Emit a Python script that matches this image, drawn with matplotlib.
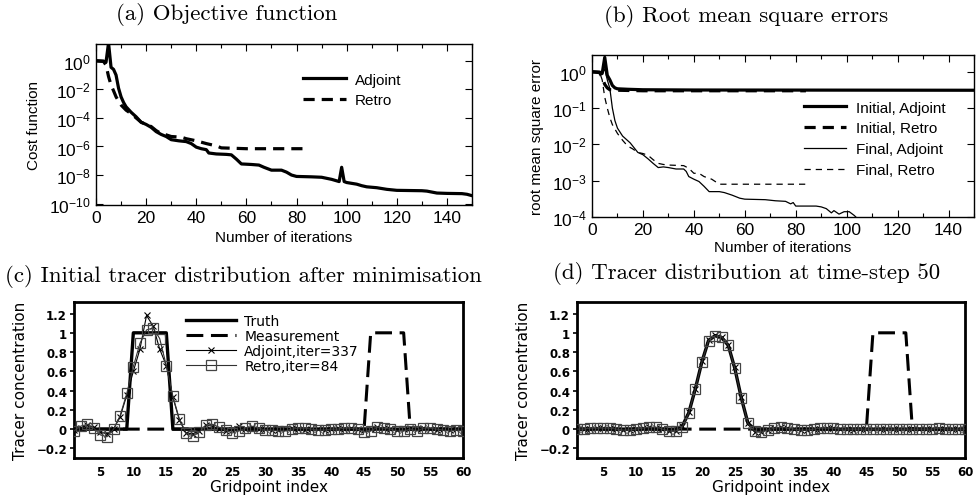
import numpy as np
import matplotlib
matplotlib.use("Agg")
import matplotlib.pyplot as plt
from matplotlib.ticker import FixedLocator, MultipleLocator, FuncFormatter

plt.rcParams['font.family'] = ['Liberation Sans', 'DejaVu Sans']

# (a) cost function
it_cost_adj = [0, 3, 4, 5, 6, 7, 8, 9, 10, 11, 12, 14, 16, 18, 20, 22, 24, 26, 28, 30,
               33, 36, 38, 40, 42, 44, 45, 48, 52, 54, 56, 58, 62, 65, 67, 70, 74, 76,
               78, 80, 86, 90, 94, 97, 98, 99, 100, 104, 106, 108, 112, 116, 120, 130,
               132, 136, 140, 146, 148, 150]
cost_adj = [1.0, 0.95, 0.8, 18, 0.35, 0.25, 0.1, 0.012, 3e-3, 1.2e-3, 6e-4, 2.5e-4, 1.2e-4,
            5e-5, 3.5e-5, 2.2e-5, 1.1e-5, 7e-6, 5e-6, 3e-6, 2.5e-6, 2.2e-6, 1.6e-6, 9e-7,
            7e-7, 6e-7, 3.5e-7, 3e-7, 2.8e-7, 2.6e-7, 1.3e-7, 6e-8, 5.5e-8, 5e-8, 3.5e-8,
            2.2e-8, 2.2e-8, 1.6e-8, 1e-8, 8e-9, 7.5e-9, 7e-9, 5e-9, 3.5e-9, 3.5e-8, 3.5e-9,
            3e-9, 2.3e-9, 1.8e-9, 1.5e-9, 1.3e-9, 1e-9, 8.5e-10, 8e-10, 7.5e-10, 5.5e-10,
            5.2e-10, 5e-10, 4.5e-10, 3.6e-10]
it_cost_ret = [0, 3, 4, 5, 6, 7, 8, 9, 10, 12, 14, 16, 18, 20, 22, 24, 26, 28, 30, 34, 36,
               40, 44, 48, 50, 60, 84]
cost_ret = [1.0, 0.9, 0.5, 0.08, 0.02, 8e-3, 3e-3, 1.5e-3, 8e-4, 3.5e-4, 2e-4, 1e-4, 5e-5,
            3.5e-5, 2.5e-5, 1.3e-5, 8e-6, 6.5e-6, 5e-6, 4.5e-6, 3.5e-6, 2.5e-6, 1.6e-6,
            1.1e-6, 8e-7, 7e-7, 7e-7]

# (b) rms errors
it_ini_adj = [0, 3, 4, 5, 6, 7, 8, 9, 10, 14, 20, 40, 150]
rms_ini_adj = [1.0, 0.98, 0.9, 2.5, 0.8, 0.6, 0.42, 0.36, 0.34, 0.33, 0.32, 0.315, 0.31]
it_ini_ret = [0, 3, 4, 5, 6, 7, 10, 20, 84]
rms_ini_ret = [1.0, 0.95, 0.7, 0.45, 0.36, 0.32, 0.31, 0.30, 0.30]
it_fin_adj = [0, 3, 4, 5, 6, 7, 8, 9, 10, 12, 15, 18, 20, 22, 24, 26, 28, 30, 33, 36, 37,
              38, 40, 42, 44, 46, 50, 52, 55, 58, 60, 68, 72, 76, 78, 79, 80, 88, 90, 92,
              94, 95, 97, 99, 101, 103, 105, 110, 150]
rms_fin_adj = [1.0, 0.97, 0.9, 1.2, 0.6, 0.35, 0.1, 0.045, 0.028, 0.017, 0.011, 6e-3,
               5.2e-3, 4e-3, 3e-3, 2.3e-3, 2.4e-3, 2.3e-3, 2.1e-3, 2.1e-3, 1.8e-3, 1.3e-3,
               1.1e-3, 9.5e-4, 7e-4, 5e-4, 5e-4, 4.7e-4, 4e-4, 3.3e-4, 3.1e-4, 3e-4, 2.8e-4,
               2.7e-4, 2.3e-4, 2.5e-4, 2e-4, 2e-4, 1.9e-4, 1.7e-4, 1.3e-4, 1.5e-4, 1.2e-4,
               1.4e-4, 1.4e-4, 1.1e-4, 8e-5, 6e-5, 3e-5]
it_fin_ret = [0, 3, 4, 5, 6, 7, 8, 10, 12, 14, 16, 18, 20, 22, 24, 26, 28, 30, 36, 38, 40,
              42, 44, 47, 50, 84]
rms_fin_ret = [1.0, 0.95, 0.6, 0.2, 0.1, 0.055, 0.035, 0.02, 0.013, 9e-3, 7.5e-3, 6e-3,
               5.6e-3, 5e-3, 3.8e-3, 3e-3, 2.8e-3, 2.7e-3, 2.6e-3, 2.2e-3, 1.6e-3, 1.6e-3,
               1.3e-3, 1.1e-3, 8e-4, 8e-4]

# (c), (d) tracer distributions on gridpoints 1..60
grid = np.arange(1, 61)
truth_c = [0]*9 + [1]*6 + [0]*45
meas = [0]*45 + [1]*6 + [0]*9
adj_c = [-0.01, 0.01, 0.04, 0.02, -0.03, -0.05, 0.0, 0.13, 0.35, 0.60,
         0.83, 1.18, 1.07, 0.83, 0.66, 0.33, 0.09, -0.04, -0.05, -0.02,
         0.04, 0.03, 0.0, -0.02, -0.01, 0.03, 0.0, 0.02, 0.0, 0.0,
         -0.01, -0.01, 0.0, 0.01, 0.0, -0.01, 0.0, 0.0, -0.01, 0.0,
         0.01, 0.0, 0.01, 0.0, -0.01, 0.0, 0.02, 0.01, 0.0, -0.01,
         0.0, 0.01, 0.0, 0.01, 0.0, -0.01, 0.0, -0.01, 0.0, -0.01]
retro_c = [-0.02, 0.03, 0.05, 0.01, -0.06, -0.08, 0.0, 0.14, 0.37, 0.65,
           0.89, 1.03, 1.05, 0.94, 0.66, 0.34, 0.10, -0.04, -0.07, -0.03,
           0.04, 0.05, 0.02, -0.01, -0.04, -0.02, 0.01, 0.03, 0.01, -0.01,
           -0.01, -0.02, -0.02, 0.0, 0.01, 0.01, 0.0, -0.01, -0.01, 0.0,
           0.0, 0.01, 0.01, 0.0, -0.03, -0.02, 0.02, 0.01, 0.0, -0.02,
           -0.02, 0.0, -0.02, 0.01, 0.01, 0.0, -0.01, -0.02, -0.01, -0.02]
truth_d = [0]*16 + [0.03, 0.17, 0.42, 0.70, 0.92, 0.97, 0.95, 0.87, 0.63, 0.32, 0.06] + [0]*33
adj_d = [0.0, 0.0, 0.0, 0.01, 0.01, 0.01, 0.0, -0.01, -0.01, 0.0,
         0.01, 0.02, 0.01, 0.0, -0.02, -0.02, 0.03, 0.18, 0.42, 0.71,
         0.93, 0.98, 0.96, 0.87, 0.64, 0.33, 0.06, -0.03, -0.03, -0.01,
         0.01, 0.02, 0.01, 0.0, -0.01, -0.01, 0.0, 0.0, 0.01, 0.01,
         0.0, 0.0, -0.01, 0.0, 0.0, 0.0, 0.0, 0.0, 0.0, 0.0,
         0.0, 0.0, 0.0, 0.0, 0.0, 0.0, 0.0, 0.0, 0.0, 0.0]
retro_d = [0.0, 0.0, 0.01, 0.01, 0.01, 0.01, 0.0, -0.01, -0.01, 0.0,
           0.01, 0.02, 0.02, 0.0, -0.02, -0.02, 0.02, 0.17, 0.42, 0.70,
           0.92, 0.97, 0.96, 0.87, 0.63, 0.32, 0.06, -0.02, -0.03, -0.01,
           0.01, 0.02, 0.01, 0.0, -0.01, -0.01, 0.0, 0.01, 0.01, 0.01,
           0.0, 0.0, 0.0, 0.0, 0.0, 0.0, 0.0, 0.0, 0.0, 0.0,
           0.0, 0.0, 0.0, 0.0, 0.0, 0.01, 0.0, 0.0, 0.0, 0.0]

fig = plt.figure(figsize=(9.77, 5.02), dpi=100)
W, H = 977.0, 502.0

def box(l, t, r, b):
    return [l / W, 1 - b / H, (r - l) / W, (b - t) / H]

ax_a = fig.add_axes(box(96, 45, 472, 206))
ax_b = fig.add_axes(box(592, 56, 974, 218))
ax_c = fig.add_axes(box(74, 303, 463, 459))
ax_d = fig.add_axes(box(577, 303, 965, 459))

title_font = dict(family='cmr10', fontsize=16.5)
fig.text(227 / W, 1 - 15 / H, '(a) Objective function', ha='center', va='center', **title_font)
fig.text(746 / W, 1 - 16 / H, '(b) Root mean square errors', ha='center', va='center', **title_font)
fig.text(243 / W, 1 - 277 / H, '(c) Initial tracer distribution after minimisation',
         ha='center', va='center', **title_font)
fig.text(747 / W, 1 - 274 / H, '(d) Tracer distribution at time-step 50',
         ha='center', va='center', **title_font)

# --- log panels
def style_log(ax):
    ax.set_yscale('log')
    ax.set_xlim(0, 150)
    ax.xaxis.set_major_locator(MultipleLocator(20))
    ax.xaxis.set_minor_locator(MultipleLocator(10))
    ax.tick_params(which='both', direction='in', top=True, right=True, labelsize=12.5, width=0.8)
    ax.tick_params(which='major', length=5)
    ax.tick_params(which='minor', length=3)
    ax.yaxis.set_minor_locator(plt.NullLocator())
    for s in ax.spines.values():
        s.set_linewidth(1.0)

ax_a.plot(it_cost_adj, cost_adj, color='black', lw=2.3, label='Adjoint')
ax_a.plot(it_cost_ret, cost_ret, color='black', lw=2.3, ls=(0, (3.5, 2.2)), label='Retro')
style_log(ax_a)
ax_a.set_ylim(8e-11, 15)
ax_a.yaxis.set_major_locator(FixedLocator([1e-10, 1e-8, 1e-6, 1e-4, 1e-2, 1e0]))
ax_a.set_xlabel('Number of iterations', fontsize=11, labelpad=4)
ax_a.set_ylabel('Cost function', fontsize=11, labelpad=6)
ax_a.legend(loc='upper left', bbox_to_anchor=(0.53, 0.87), frameon=False, fontsize=11,
            handlelength=2.8, labelspacing=0.45, handletextpad=0.6, borderpad=0)

ax_b.plot(it_ini_adj, rms_ini_adj, color='black', lw=2.3, label='Initial, Adjoint')
ax_b.plot(it_ini_ret, rms_ini_ret, color='black', lw=2.3, ls=(0, (3.5, 2.2)), label='Initial, Retro')
ax_b.plot(it_fin_adj, rms_fin_adj, color='black', lw=0.9, label='Final, Adjoint')
ax_b.plot(it_fin_ret, rms_fin_ret, color='black', lw=0.9, ls=(0, (5, 4)), label='Final, Retro')
style_log(ax_b)
ax_b.set_ylim(1e-4, 2.9)
ax_b.yaxis.set_major_locator(FixedLocator([1e-4, 1e-3, 1e-2, 1e-1, 1e0]))
ax_b.set_xlabel('Number of iterations', fontsize=11, labelpad=2)
ax_b.set_ylabel('root mean square error', fontsize=11, labelpad=6)
ax_b.legend(loc='upper left', bbox_to_anchor=(0.534, 0.766), frameon=False, fontsize=11,
            handlelength=2.8, labelspacing=0.45, handletextpad=0.6, borderpad=0)

# --- tracer panels
def fmt_tracer(v, pos):
    s = '%g' % round(v, 2)
    return s.replace('-', '\u2212')

def style_tracer(ax):
    ax.set_xlim(1, 60)
    ax.set_ylim(-0.3, 1.32)
    ax.xaxis.set_major_locator(FixedLocator(np.arange(5, 61, 5)))
    ax.yaxis.set_major_locator(FixedLocator([-0.2, 0, 0.2, 0.4, 0.6, 0.8, 1.0, 1.2]))
    ax.yaxis.set_major_formatter(FuncFormatter(fmt_tracer))
    ax.tick_params(axis='y', direction='out', length=3, width=1.2, pad=2)
    ax.tick_params(axis='x', length=0, pad=5)
    for lab in ax.get_xticklabels() + ax.get_yticklabels():
        lab.set_fontfamily('DejaVu Sans')
        lab.set_fontweight('bold')
        lab.set_fontsize(8.5)
    for s in ax.spines.values():
        s.set_linewidth(2.0)
    ax.set_xlabel('Gridpoint index', fontsize=11, family='DejaVu Sans', labelpad=1)
    ax.set_ylabel('Tracer concentration', fontsize=11, family='DejaVu Sans', labelpad=6)

def draw_tracer(ax, truth, adj, retro, with_legend):
    ax.plot(grid, truth, color='black', lw=2.4, label='Truth', zorder=3)
    ax.plot(grid, meas, color='black', lw=2.2, ls=(0, (5.5, 2.5)), label='Measurement', zorder=3)
    ax.plot(grid, adj, color='black', lw=0.8, marker='x', ms=5, mew=0.8,
            label='Adjoint,iter=337', zorder=4)
    ax.plot(grid, retro, color='#333333', lw=0.8, marker='s', ms=6.5, mfc='none',
            mec='#444444', mew=0.9, label='Retro,iter=84', zorder=4)
    if with_legend:
        ax.legend(loc='upper left', bbox_to_anchor=(0.27, 0.97), frameon=False,
                  prop={'family': 'DejaVu Sans', 'size': 10}, handlelength=3.6,
                  labelspacing=0.08, handletextpad=0.6, borderpad=0)

draw_tracer(ax_c, truth_c, adj_c, retro_c, True)
style_tracer(ax_c)
draw_tracer(ax_d, truth_d, adj_d, retro_d, False)
style_tracer(ax_d)

fig.savefig('out.png', dpi=100)
